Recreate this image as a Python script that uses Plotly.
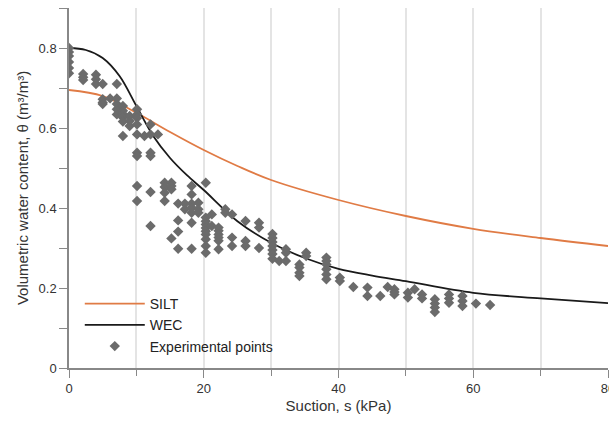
import plotly.graph_objects as go

# Model curves
silt_s = [0, 5, 10, 15, 20, 25, 30, 40, 50, 60, 70, 80]
silt_theta = [0.695, 0.68, 0.638, 0.59, 0.545, 0.505, 0.47, 0.42, 0.38, 0.348, 0.325, 0.305]

wec_s = [0, 2.5, 5, 7.5, 10, 12.5, 15, 17.5, 20, 25, 30, 35, 40, 45, 50, 60, 70, 80]
wec_theta = [0.800, 0.795, 0.775, 0.73, 0.655, 0.58, 0.525, 0.482, 0.445, 0.367, 0.313,
             0.275, 0.248, 0.231, 0.217, 0.188, 0.174, 0.162]

# Experimental points (suction column -> measured water contents)
exp_columns = [
    (0.0, [0.80, 0.79, 0.78, 0.765, 0.75, 0.737]),
    (2.1, [0.735, 0.727, 0.72]),
    (4.0, [0.733, 0.722, 0.71]),
    (5.0, [0.71, 0.672, 0.664, 0.66]),
    (6.1, [0.674]),
    (7.1, [0.71, 0.674, 0.66, 0.647, 0.634]),
    (8.0, [0.655, 0.643, 0.635, 0.626, 0.616, 0.58]),
    (9.0, [0.63, 0.6175, 0.605]),
    (10.1, [0.647, 0.634, 0.625, 0.609, 0.584, 0.538, 0.53, 0.455, 0.4175]),
    (11.2, [0.58]),
    (12.1, [0.609, 0.584, 0.538, 0.53, 0.44, 0.355]),
    (13.2, [0.584]),
    (14.2, [0.463, 0.4525, 0.438, 0.4175]),
    (15.2, [0.463, 0.455, 0.447, 0.324]),
    (16.2, [0.411, 0.369, 0.341, 0.298]),
    (17.2, [0.411, 0.397]),
    (18.2, [0.455, 0.434, 0.411, 0.401, 0.388, 0.363, 0.298]),
    (19.2, [0.413, 0.397, 0.388]),
    (20.3, [0.463, 0.376, 0.367, 0.359, 0.35, 0.342, 0.334, 0.322, 0.305, 0.288]),
    (21.2, [0.384, 0.355]),
    (22.2, [0.351, 0.343, 0.334, 0.326, 0.318, 0.297]),
    (23.2, [0.397, 0.388]),
    (24.2, [0.384, 0.326, 0.305]),
    (26.2, [0.3675, 0.3175, 0.305]),
    (28.2, [0.363, 0.351, 0.30]),
    (30.2, [0.335, 0.325, 0.315, 0.305, 0.295, 0.285, 0.273]),
    (31.2, [0.2675]),
    (32.2, [0.297, 0.288, 0.2675]),
    (34.2, [0.259, 0.251, 0.238, 0.23]),
    (35.2, [0.288, 0.28]),
    (38.2, [0.276, 0.2675, 0.259, 0.247, 0.234, 0.222]),
    (40.2, [0.226, 0.2175]),
    (42.2, [0.2025]),
    (44.3, [0.201, 0.18]),
    (46.2, [0.18]),
    (47.3, [0.2025]),
    (48.3, [0.197, 0.19, 0.184]),
    (50.3, [0.188, 0.176]),
    (51.3, [0.197]),
    (52.4, [0.184, 0.174]),
    (54.3, [0.172, 0.161, 0.151, 0.14]),
    (56.4, [0.184, 0.174, 0.163]),
    (58.4, [0.18, 0.1675, 0.155]),
    (60.4, [0.161]),
    (62.5, [0.1575]),
]
exp_s = [s for s, vals in exp_columns for _ in vals]
exp_theta = [v for _, vals in exp_columns for v in vals]

x_ticks = [0, 20, 40, 60, 80]
y_ticks = [0, 0.2, 0.4, 0.6, 0.8]
y_ticktext = ["0", "0.2", "0.4", "0.6", "0.8"]

FONT = "Arial, Liberation Sans, sans-serif"

fig = go.Figure()
fig.add_trace(go.Scatter(x=silt_s, y=silt_theta, mode="lines", name="SILT",
                         line=dict(color="#e07b45", width=1.8, shape="spline", smoothing=1.0)))
fig.add_trace(go.Scatter(x=wec_s, y=wec_theta, mode="lines", name="WEC",
                         line=dict(color="#1a1a1a", width=1.8, shape="spline", smoothing=1.0)))
fig.add_trace(go.Scatter(x=exp_s, y=exp_theta, mode="markers", name="Experimental points",
                         marker=dict(symbol="diamond", size=8, color="#6b6b6b")))

fig.update_layout(
    width=609, height=421,
    margin=dict(l=69, r=1, t=8, b=53, autoexpand=False),
    paper_bgcolor="white", plot_bgcolor="white",
    font=dict(family=FONT, size=13, color="#333333"),
    legend=dict(x=0.02, y=0.222, xanchor="left", yanchor="top",
                bgcolor="rgba(0,0,0,0)", font=dict(size=14, color="#222222"),
                itemwidth=60, tracegroupgap=0),
    xaxis=dict(
        range=[0, 80], tickvals=x_ticks, ticks="outside", ticklen=8, tickwidth=1,
        tickcolor="#888888", showline=True, linecolor="#888888", linewidth=1.5,
        showgrid=True, gridcolor="#e4e4e4", gridwidth=1.5, zeroline=False,
        ticklabeloverflow="allow", automargin=False,
        minor=dict(dtick=10, ticks="outside", ticklen=6, tickcolor="#888888",
                   showgrid=True, gridcolor="#e4e4e4", gridwidth=1.5),
        title=dict(text="Suction, s (kPa)", font=dict(size=15, color="#333333"), standoff=5),
        tickfont=dict(size=13, color="#333333"),
    ),
    yaxis=dict(
        range=[0, 0.9], tickvals=y_ticks, ticktext=y_ticktext,
        ticks="outside", ticklen=8, tickwidth=1,
        tickcolor="#888888", showline=True, linecolor="#888888", linewidth=1.5,
        showgrid=False, zeroline=False, automargin=False,
        minor=dict(dtick=0.1, ticks="outside", ticklen=8, tickcolor="#888888", showgrid=False),
        title=dict(text="Volumetric water content, θ (m³/m³)", font=dict(size=15, color="#333333"),
                   standoff=6),
        tickfont=dict(size=13, color="#333333"),
    ),
)

fig.write_html("out.html")
